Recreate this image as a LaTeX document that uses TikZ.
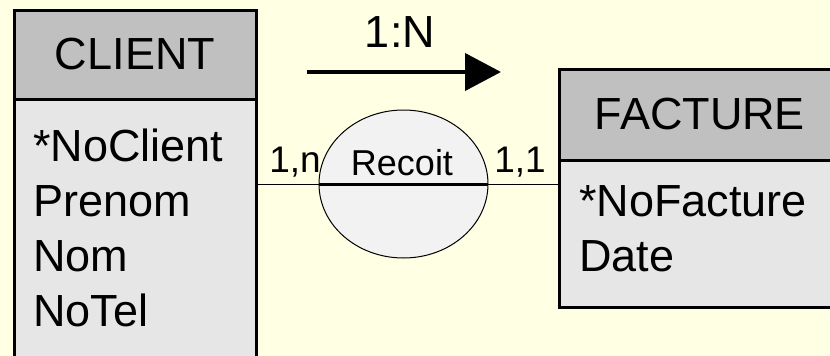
\documentclass[tikz,border=0pt]{standalone}
\usepackage{fontspec}
\setmainfont{Liberation Sans}
\usetikzlibrary{shapes.geometric,arrows.meta}
\definecolor{paper}{RGB}{255,255,228}
\definecolor{headgray}{RGB}{192,192,192}
\definecolor{bodygray}{RGB}{230,230,230}
\definecolor{assocgray}{RGB}{242,242,242}

\begin{document}
\begin{tikzpicture}[x=1pt, y=-1pt,
    entityhead/.style={draw, line width=3pt, fill=headgray, anchor=north west, inner sep=0pt, outer sep=0pt, font=\fontsize{45}{55}\selectfont},
    entitybody/.style={draw, line width=3pt, fill=bodygray, anchor=north west, inner sep=0pt, outer sep=0pt},
    attrs/.style={anchor=north west, align=left, inner sep=0pt, font=\fontsize{45}{55}\selectfont},
    card/.style={anchor=base, inner sep=0pt, font=\fontsize{37}{40}\selectfont}]
    \useasboundingbox (0,0) rectangle (830,356);
    \clip (0,0) rectangle (830,356);
    \fill[paper] (0,0) rectangle (830,356);

    \node[entitybody, minimum width=242pt, minimum height=300pt] (clientbody) at (14,99) {};
    \node[entityhead, minimum width=242pt, minimum height=89pt] (clienthead) at (14,10) {CLIENT};
    \node[attrs] (clientattrs) at (33,129) {*NoClient\\Prenom\\Nom\\NoTel};

    \node[entitybody, minimum width=282pt, minimum height=147pt] (facturebody) at (559,160) {};
    \node[entityhead, minimum width=282pt, minimum height=91pt] (facturehead) at (559,69) {FACTURE};
    \node[attrs] (factureattrs) at (579,185) {*NoFacture\\Date};

    \node[ellipse, draw, line width=1pt, fill=assocgray, minimum width=169pt, minimum height=148pt, inner sep=0pt, outer sep=0pt] (recoit) at (403.5,184) {};
    \node[card, font=\fontsize{36}{40}\selectfont] (recoitlabel) at (402,175) {Recoit};
    \node[card] (cardclient) at (295,172) {1,n};
    \node[card] (cardfacture) at (520,172) {1,1};

    \draw[line width=1pt] (recoit.west -| clientbody.east) -- (recoit.west);
    \draw[line width=1pt] (recoit.east) -- (recoit.east -| facturebody.west);
    \draw[line width=3pt] (recoit.west) -- (recoit.east);

    \coordinate (arrowstart) at (307,72);
    \coordinate (arrowend) at (501,72);
    \draw[line width=4pt, -{Triangle[length=36pt, width=37pt]}] (arrowstart) -- (arrowend);
    \node[card, font=\fontsize{45}{50}\selectfont] (ratio) at (400,47) {1:N};
\end{tikzpicture}
\end{document}
